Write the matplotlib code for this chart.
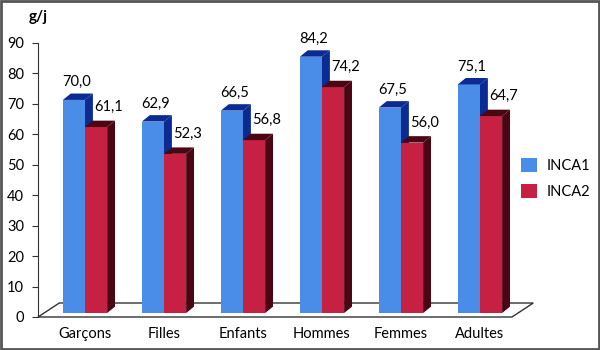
import matplotlib.pyplot as plt
from matplotlib.patches import Polygon, Rectangle, Patch

categories = ['Garçons', 'Filles', 'Enfants', 'Hommes', 'Femmes', 'Adultes']
inca1 = [70.0, 62.9, 66.5, 84.2, 67.5, 75.1]
inca2 = [61.1, 52.3, 56.8, 74.2, 56.0, 64.7]
series_names = ['INCA1', 'INCA2']
y_ticks = [0, 10, 20, 30, 40, 50, 60, 70, 80, 90]

plt.rcParams['font.family'] = ['Lato', 'DejaVu Sans']

blue_front, blue_dark = '#4a8de8', '#0b2a92'
red_front, red_dark = '#c62042', '#4a0612'

fig = plt.figure(figsize=(6, 3.5), dpi=100)
# axes: x unit = one category (79 px), y from 0 (px 317) to 90 (px 43)
x_left, x_right = -0.595, 6.013
ax = fig.add_axes([38 / 600, 33 / 350, 522 / 600, 274 / 350])
ax.set_xlim(x_left, x_right)
ax.set_ylim(0, 90)

# 3D offsets in data units
bar_dx, bar_dy = 0.10, 2.1      # bar depth
floor_dx, floor_dy = 0.27, 4.6  # floor depth
base = 1.3                      # bars sit slightly back on the floor
width = 0.28
floor_right = 5.405

# floor
floor = Polygon([(x_left, 0), (floor_right, 0),
                 (floor_right + floor_dx, floor_dy), (x_left + floor_dx, floor_dy)],
                closed=True, facecolor='white', edgecolor='#333333', lw=1.0,
                clip_on=False, zorder=1)
ax.add_patch(floor)


def bar3d(x0, value, front, dark):
    x1 = x0 + width
    y0, y1 = base, base + value
    ax.add_patch(Polygon([(x0, y0), (x1, y0), (x1, y1), (x0, y1)],
                         facecolor=front, edgecolor='none', clip_on=False, zorder=2))
    ax.add_patch(Polygon([(x0, y1), (x1, y1), (x1 + bar_dx, y1 + bar_dy), (x0 + bar_dx, y1 + bar_dy)],
                         facecolor=dark, edgecolor='none', clip_on=False, zorder=2))
    ax.add_patch(Polygon([(x1, y0), (x1 + bar_dx, y0 + bar_dy), (x1 + bar_dx, y1 + bar_dy), (x1, y1)],
                         facecolor=dark, edgecolor='none', clip_on=False, zorder=2))


for i in range(len(categories)):
    bar3d(i - width, inca1[i], blue_front, blue_dark)
    bar3d(i, inca2[i], red_front, red_dark)
    ax.text(i - width / 2 + 0.03, base + inca1[i] + bar_dy + 1.5,
            f'{inca1[i]:.1f}'.replace('.', ','), ha='center', va='bottom', fontsize=10.5)
    ax.text(i + width / 2 + 0.16, base + inca2[i] + bar_dy + 2.2,
            f'{inca2[i]:.1f}'.replace('.', ','), ha='center', va='bottom', fontsize=10.5)

# axes styling
for side in ['top', 'right', 'bottom']:
    ax.spines[side].set_visible(False)
ax.spines['left'].set_color('#333333')
ax.spines['left'].set_bounds(0, 90)
ax.set_yticks(y_ticks)
ax.tick_params(axis='y', direction='out', length=4, color='#333333', labelsize=10.5, pad=6)
ax.set_xticks(range(len(categories)), categories)
ax.tick_params(axis='x', length=0, labelsize=10.5, pad=7)

ax.text(x_left, 98.6, 'g/j', ha='center', va='center', fontsize=11, fontweight='bold')

handles = [Patch(facecolor=blue_front), Patch(facecolor=red_front)]
fig.legend(handles, series_names, loc='center left', bbox_to_anchor=(0.868, 0.49),
           frameon=False, fontsize=10.5, handlelength=1.1, handleheight=1.1,
           labelspacing=0.8, handletextpad=0.7, borderpad=0, borderaxespad=0)

# outer frame
fig.patches.append(Rectangle((0.002, 0.003), 0.996, 0.994, transform=fig.transFigure,
                             fill=False, edgecolor='#555555', lw=2))

fig.savefig('out.png', dpi=100)
